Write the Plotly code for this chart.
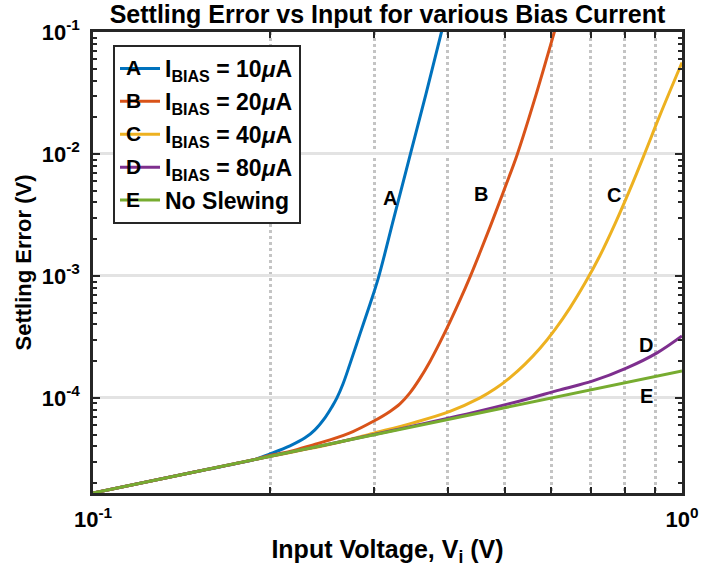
import numpy as np
import plotly.graph_objects as go

# ---- data ----
x_A = [0.10, 0.15, 0.1884, 0.1998, 0.2160, 0.2291, 0.2381, 0.2476, 0.2545, 0.2595, 0.2657, 0.2731,
       0.2840, 0.2954, 0.3048, 0.3243, 0.3452, 0.3675, 0.3913, 0.3975]
y_A = [1.66e-5, 2.49e-5, 3.13e-5, 3.47e-5, 4.04e-5, 4.70e-5, 5.47e-5, 6.86e-5, 8.44e-5, 1.0e-4, 1.30e-4, 1.90e-4,
       3.35e-4, 5.89e-4, 9.45e-4, 3.0e-3, 9.63e-3, 3.10e-2, 0.1038, 0.1377]

x_B = [0.10, 0.15, 0.1884, 0.1998, 0.2160, 0.2365, 0.2526, 0.2763, 0.2987, 0.3193, 0.3320, 0.3452,
       0.3590, 0.3734, 0.3882, 0.4037, 0.4199, 0.4367, 0.4557, 0.4776, 0.5006, 0.5246, 0.5651, 0.6085, 0.6206]
y_B = [1.66e-5, 2.49e-5, 3.13e-5, 3.38e-5, 3.63e-5, 4.12e-5, 4.53e-5, 5.30e-5, 6.40e-5, 7.75e-5, 8.93e-5, 1.099e-4,
       1.445e-4, 1.99e-4, 2.85e-4, 4.20e-4, 6.35e-4, 9.82e-4, 1.63e-3, 2.91e-3, 5.31e-3, 9.77e-3, 3.05e-2, 0.1038, 0.143]

x_C = [0.10, 0.15, 0.20, 0.2526, 0.2987, 0.3494, 0.4037, 0.4539, 0.4815, 0.5105, 0.5414, 0.5741, 0.6085,
       0.6454, 0.6844, 0.7258, 0.7695, 0.8160, 0.8653, 0.9175, 1.0]
y_C = [1.66e-5, 2.49e-5, 3.32e-5, 4.16e-5, 5.12e-5, 6.24e-5, 7.75e-5, 1.0e-4, 1.186e-4, 1.466e-4, 1.89e-4, 2.55e-4, 3.63e-4,
       5.47e-4, 8.73e-4, 1.47e-3, 2.67e-3, 5.12e-3, 1.023e-2, 2.08e-2, 5.62e-2]

x_D = [0.10, 0.15, 0.20, 0.25, 0.3320, 0.4539, 0.5309, 0.6206, 0.7062, 0.8063, 0.9071, 1.0]
y_D = [1.66e-5, 2.49e-5, 3.32e-5, 4.15e-5, 5.57e-5, 7.82e-5, 9.44e-5, 1.164e-4, 1.377e-4, 1.762e-4, 2.34e-4, 3.22e-4]

x_E = [0.10, 0.20, 0.50, 1.0]
y_E = [1.66e-5, 3.32e-5, 8.3e-5, 1.66e-4]

series_names = ["I<sub>BIAS</sub> = 10<i>μ</i>A", "I<sub>BIAS</sub> = 20<i>μ</i>A",
                "I<sub>BIAS</sub> = 40<i>μ</i>A", "I<sub>BIAS</sub> = 80<i>μ</i>A", "No Slewing<sub> </sub>"]
series_letters = ["A", "B", "C", "D", "E"]
colors = ["#0072BD", "#D95319", "#EDB120", "#7E2F8E", "#77AC30"]

label_x = [0.319, 0.456, 0.767, 0.869, 0.869]
label_y = [4.36e-3, 4.7e-3, 4.6e-3, 2.72e-4, 1.04e-4]

x_ticks = [0.1, 1.0]
x_ticktext = ["10<sup>-1</sup>", "10<sup>0</sup>"]
y_ticks = [1e-4, 1e-3, 1e-2, 1e-1]
y_ticktext = ["10<sup>-4</sup>", "10<sup>-3</sup>", "10<sup>-2</sup>", "10<sup>-1</sup>"]
x_minor = [0.2, 0.3, 0.4, 0.5, 0.6, 0.7, 0.8, 0.9]
y_minor = [m * 10.0 ** e for e in range(-5, -1) for m in range(2, 10)]

FONT = "Liberation Sans, Arial, sans-serif"
AX = "#262626"

# plot area in pixels (for paper-coordinate placement of legend letters)
L, R, T, B = 93, 682, 32, 493
def px(xp):
    return (xp - L) / (R - L)
def py(yp):
    return (B - yp) / (B - T)

fig = go.Figure()
xs = [x_A, x_B, x_C, x_D, x_E]
ys = [y_A, y_B, y_C, y_D, y_E]
for i in range(5):
    fig.add_trace(go.Scatter(
        x=xs[i], y=ys[i], mode="lines",
        name=series_names[i], legendgroup=series_letters[i],
        line=dict(color=colors[i], width=3, shape="spline", smoothing=1.0),
    ))

for i in range(5):
    fig.add_annotation(x=np.log10(label_x[i]), y=np.log10(label_y[i]), xref="x", yref="y",
                       text=series_letters[i], showarrow=False,
                       font=dict(family=FONT, size=20, color="black", weight="bold"))

# letters drawn on top of the legend line samples
legend_letter_y = [67, 100, 133, 166, 199]
for i in range(5):
    fig.add_annotation(x=px(133), y=py(legend_letter_y[i]), xref="paper", yref="paper",
                       text=series_letters[i], showarrow=False, xanchor="center", yanchor="middle",
                       font=dict(family=FONT, size=21, color="black", weight="bold"))

fig.update_layout(
    width=701, height=567,
    margin=dict(l=L, r=701 - R, t=T, b=567 - B),
    paper_bgcolor="white", plot_bgcolor="white",
    font=dict(family=FONT, size=20, color="black", weight="bold"),
    title=dict(text="Settling Error vs Input for various Bias Current",
               x=(L + R) / 2 / 701, xanchor="center", y=1 - 14 / 567, yanchor="middle",
               font=dict(family=FONT, size=25, color="black", weight="bold")),
    showlegend=True,
    legend=dict(x=px(113), y=py(45), xanchor="left", yanchor="top",
                bgcolor="white", bordercolor=AX, borderwidth=2,
                font=dict(family=FONT, size=23, color="black", weight="bold"),
                itemwidth=40, tracegroupgap=0),
    xaxis=dict(type="log", range=[-1, 0], tickvals=x_ticks, ticktext=x_ticktext,
               ticks="inside", ticklen=7, tickwidth=2, tickcolor=AX,
               showline=True, linecolor=AX, linewidth=2.5, mirror="allticks",
               showgrid=False, zeroline=False, ticklabelstandoff=5, automargin=False,
               tickfont=dict(family=FONT, size=22, color="black", weight="bold"),
               title=dict(text="Input Voltage, V<sub>i</sub> (V)", standoff=10,
                          font=dict(family=FONT, size=25, color="black", weight="bold")),
               minor=dict(tickmode="array", tickvals=x_minor, ticks="inside", ticklen=6,
                          tickwidth=2, tickcolor=AX, showgrid=True, gridcolor="#c4c4c4",
                          griddash="dot", gridwidth=2.5)),
    yaxis=dict(type="log", range=[np.log10(1.66e-5), -1], tickvals=y_ticks, ticktext=y_ticktext,
               ticks="inside", ticklen=7, tickwidth=2, tickcolor=AX,
               showline=True, linecolor=AX, linewidth=2.5, mirror="allticks",
               showgrid=True, gridcolor="#e3e3e3", gridwidth=2.5, zeroline=False,
               ticklabelstandoff=6, automargin=False,
               tickfont=dict(family=FONT, size=22, color="black", weight="bold"),
               title=dict(text="Settling Error (V)", standoff=4,
                          font=dict(family=FONT, size=22, color="black", weight="bold")),
               minor=dict(tickmode="array", tickvals=y_minor, ticks="inside", ticklen=4,
                          tickwidth=1.5, tickcolor=AX, showgrid=False)),
)

fig.write_html("out.html")
